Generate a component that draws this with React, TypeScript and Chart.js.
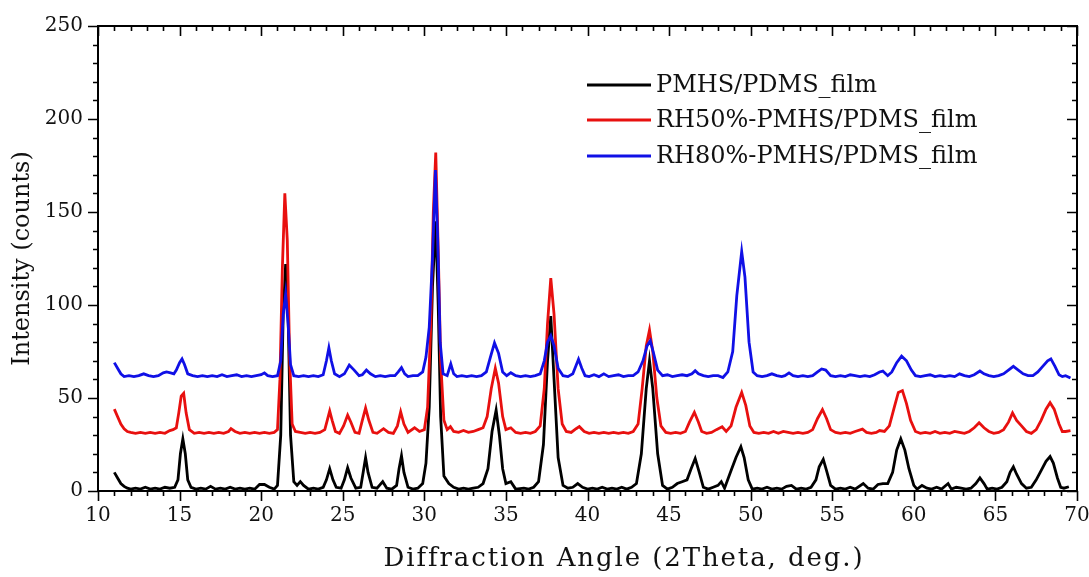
import React, { useEffect, useRef } from "react";
import { Chart, registerables } from "chart.js";

Chart.register(...registerables);

const seriesLabels = ["PMHS/PDMS_film", "RH50%-PMHS/PDMS_film", "RH80%-PMHS/PDMS_film"];
const seriesColors = ["#000000", "#e8100f", "#1010e6"];
const xTitle = "Diffraction Angle (2Theta, deg.)";
const yTitle = "Intensity (counts)";

const xMajorTicks = [10, 15, 20, 25, 30, 35, 40, 45, 50, 55, 60, 65, 70];
const yMajorTicks = [0, 50, 100, 150, 200, 250];

const pmhs: [number, number][] = [
  [11.0,10],[11.2,7],[11.4,4],[11.6,2.5],[11.8,1.5],[12.0,1],[12.3,1.5],[12.6,1],[12.9,2],[13.2,1],[13.5,1.5],[13.8,1],[14.1,2],[14.4,1.5],[14.7,2],[14.9,6],[15.05,20],[15.2,28],[15.35,20],[15.5,6],[15.7,2],[16.0,1],[16.3,1.5],[16.6,1],[16.9,2.5],[17.2,1],[17.5,1.5],[17.8,1],[18.1,2],[18.4,1],[18.7,1.5],[19.0,1],[19.3,1.5],[19.6,1],[19.9,3.5],[20.2,3.5],[20.5,2],[20.8,1],[21.0,3],[21.2,30],[21.35,95],[21.5,122],[21.65,95],[21.8,30],[22.0,5],[22.2,3],[22.4,5],[22.6,3],[22.9,1],[23.2,1.5],[23.5,1],[23.8,2],[24.0,6],[24.2,12],[24.4,6],[24.6,2],[24.9,1.5],[25.1,6],[25.3,12.5],[25.5,7],[25.8,1.5],[26.1,2],[26.25,10],[26.4,18],[26.55,10],[26.8,2],[27.1,1.5],[27.45,5],[27.7,1.5],[28.0,1],[28.3,3],[28.45,12],[28.6,19],[28.75,10],[29.0,2],[29.3,1],[29.6,1.5],[29.9,4],[30.1,15],[30.3,45],[30.5,110],[30.7,145],[30.85,100],[31.0,40],[31.2,8],[31.5,4],[31.8,2],[32.1,1],[32.4,1.5],[32.7,1],[33.0,1.5],[33.3,2],[33.6,4],[33.9,12],[34.15,32],[34.4,43.5],[34.6,30],[34.8,12],[35.0,4],[35.3,5],[35.6,1],[36.1,1.5],[36.4,1],[36.7,2],[37.0,5],[37.3,25],[37.55,70],[37.75,94],[37.95,60],[38.2,18],[38.5,3],[38.8,1.5],[39.1,2],[39.4,4],[39.7,2],[40.0,1],[40.3,1.5],[40.6,1],[40.9,2],[41.2,1],[41.5,1.5],[41.8,1],[42.1,2],[42.4,1],[42.7,2],[43.0,4],[43.3,20],[43.6,55],[43.8,70],[44.0,55],[44.3,20],[44.6,3],[44.9,1],[45.2,2],[45.5,4],[45.8,5],[46.1,6],[46.35,12],[46.6,17.5],[46.85,10],[47.1,2],[47.4,1],[47.7,2],[48.0,3],[48.2,5],[48.4,1.5],[48.8,11],[49.1,18],[49.4,23.8],[49.6,18],[49.85,6],[50.1,1],[50.4,1.5],[50.7,1],[51.0,2],[51.3,1],[51.6,1.5],[51.9,1],[52.2,2.5],[52.5,3],[52.8,1],[53.1,1.5],[53.4,1],[53.7,2],[54.0,6],[54.2,13],[54.45,17],[54.65,11],[54.9,3],[55.2,1],[55.5,1.5],[55.8,1],[56.1,2],[56.4,1],[56.9,4],[57.2,1.5],[57.5,1],[57.8,3.5],[58.1,4],[58.4,4],[58.7,10],[58.95,22],[59.2,28],[59.45,22],[59.7,12],[60.0,3],[60.2,1],[60.5,3],[60.8,1.5],[61.1,1],[61.4,2],[61.7,1],[62.1,4],[62.3,1],[62.6,2],[62.9,1.5],[63.2,1],[63.5,1.5],[63.8,4],[64.05,7],[64.3,4],[64.5,1],[64.8,1.5],[65.1,1],[65.4,2],[65.7,5],[65.9,10],[66.1,13],[66.3,9],[66.6,4],[66.9,1.5],[67.2,2],[67.5,6],[67.8,11],[68.1,16],[68.35,18.5],[68.55,15],[68.8,7],[69.0,2],[69.2,1.5],[69.5,2.3]
];

const rh50: [number, number][] = [
  [11.0,44],[11.2,40],[11.4,36],[11.6,33.5],[11.8,32],[12.0,31.5],[12.3,31],[12.6,31.5],[12.9,31],[13.2,31.5],[13.5,31],[13.8,31.5],[14.1,31],[14.4,32.5],[14.6,33],[14.8,34],[14.95,42],[15.1,51],[15.25,52.5],[15.4,42],[15.6,33],[15.9,31],[16.2,31.5],[16.5,31],[16.8,31.5],[17.1,31],[17.4,31.5],[17.7,31],[18.0,32],[18.15,33.5],[18.4,32],[18.7,31],[19.0,31.5],[19.3,31],[19.6,31.5],[19.9,31],[20.2,31.5],[20.5,31],[20.8,31.5],[21.0,33],[21.15,60],[21.3,120],[21.45,160],[21.6,135],[21.75,70],[21.9,36],[22.1,32],[22.4,31.5],[22.7,31],[23.0,31.5],[23.3,31],[23.6,31.5],[23.9,33],[24.05,38],[24.2,43],[24.35,38],[24.55,32],[24.8,31],[25.05,35],[25.3,40.8],[25.5,37],[25.75,31.5],[26.0,31],[26.2,38],[26.4,44.6],[26.6,38],[26.85,31.5],[27.1,31],[27.5,33.5],[27.8,31.5],[28.1,31],[28.35,35],[28.55,42.6],[28.75,36],[29.0,31.5],[29.4,34],[29.7,32],[30.0,33],[30.2,45],[30.4,90],[30.55,150],[30.7,182],[30.85,130],[31.0,70],[31.2,38],[31.4,33],[31.6,34.6],[31.8,32],[32.1,31.5],[32.4,32.5],[32.7,31.5],[33.0,32],[33.3,33],[33.6,34],[33.85,40],[34.1,55],[34.35,66],[34.55,58],[34.8,40],[35.0,33],[35.3,34],[35.6,31.5],[35.9,31],[36.2,31.5],[36.5,31],[36.8,32],[37.1,35],[37.35,55],[37.55,90],[37.75,114.5],[37.95,95],[38.2,55],[38.45,36],[38.7,32],[39.0,31.5],[39.3,33.5],[39.5,34.6],[39.8,32],[40.1,31],[40.4,31.5],[40.7,31],[41.0,31.5],[41.3,31],[41.6,31.5],[41.9,31],[42.2,31.5],[42.5,31],[42.8,32],[43.1,36],[43.35,55],[43.6,78],[43.8,86.6],[44.0,75],[44.25,50],[44.5,35],[44.8,31.5],[45.1,31],[45.4,31.5],[45.7,31],[46.0,32],[46.25,37],[46.55,42.3],[46.8,37],[47.0,32],[47.3,31],[47.6,31.5],[47.9,33],[48.25,34.5],[48.5,32],[48.8,35],[49.1,45],[49.45,53],[49.7,46],[49.95,35],[50.2,31.5],[50.5,31],[50.8,31.5],[51.1,31],[51.4,32],[51.7,31],[52.0,32],[52.3,31.5],[52.6,31],[52.9,31.5],[53.2,31],[53.5,31.5],[53.8,33],[54.1,39],[54.4,43.8],[54.65,39],[54.9,33],[55.2,31.5],[55.5,31],[55.8,31.5],[56.1,31],[56.4,32],[56.85,33.3],[57.1,31.5],[57.4,31],[57.7,31.5],[57.9,32.5],[58.2,32],[58.5,35],[58.8,45],[59.05,53],[59.3,54],[59.55,47],[59.8,38],[60.1,32],[60.4,31],[60.7,31.5],[61.0,31],[61.3,32],[61.6,31],[61.9,31.5],[62.2,31],[62.5,32],[62.8,31.5],[63.1,31],[63.4,32],[63.7,34],[64.0,36.7],[64.3,34],[64.6,32],[64.9,31],[65.2,31.5],[65.5,33],[65.8,37],[66.05,42],[66.3,38],[66.6,35],[66.9,32],[67.2,31],[67.5,33],[67.8,38],[68.1,44],[68.35,47.5],[68.6,44],[68.9,36],[69.1,32],[69.3,32],[69.6,32.4]
];

const rh80: [number, number][] = [
  [11.0,69],[11.2,66],[11.4,63],[11.6,61.5],[11.9,62],[12.2,61.5],[12.5,62],[12.8,63],[13.1,62],[13.4,61.5],[13.7,62],[14.0,63.5],[14.2,64],[14.45,63.5],[14.65,63],[14.8,65],[15.0,69],[15.15,71],[15.3,68],[15.5,63],[15.8,62],[16.1,61.5],[16.4,62],[16.7,61.5],[17.0,62],[17.3,61.5],[17.6,62.5],[17.9,61.5],[18.2,62],[18.5,62.5],[18.8,61.5],[19.1,62],[19.4,61.5],[19.7,62],[20.0,62.5],[20.2,63.5],[20.4,62],[20.7,61.5],[21.0,62],[21.2,70],[21.35,95],[21.5,106],[21.65,90],[21.8,68],[22.0,62],[22.3,61.5],[22.6,62],[22.9,61.5],[23.2,62],[23.5,61.5],[23.8,62.5],[24.0,70],[24.15,77],[24.3,70],[24.5,63],[24.8,61.5],[25.1,63],[25.4,67.7],[25.7,65],[26.0,62],[26.2,62.5],[26.45,65],[26.7,63],[27.0,61.5],[27.3,62],[27.6,61.5],[27.9,62],[28.2,62],[28.4,64],[28.6,66.3],[28.8,63],[29.0,61.5],[29.3,62],[29.6,62],[29.9,64],[30.1,72],[30.3,88],[30.5,125],[30.68,172.6],[30.82,135],[30.97,80],[31.15,63],[31.4,62],[31.62,68.3],[31.8,63],[32.0,61.5],[32.3,62],[32.6,61.5],[32.9,62],[33.2,61.5],[33.5,62],[33.8,64],[34.05,72],[34.3,79.6],[34.55,74],[34.8,64],[35.05,62],[35.3,63.6],[35.6,62],[35.9,61.5],[36.2,62],[36.5,61.5],[36.8,62],[37.1,63],[37.35,70],[37.55,80],[37.75,83.5],[37.95,78],[38.2,66],[38.5,62],[38.8,61.5],[39.1,63],[39.45,70.8],[39.65,66],[39.85,62],[40.1,61.5],[40.4,62.5],[40.7,61.5],[41.0,63],[41.3,61.5],[41.6,62],[41.9,62.5],[42.2,61.5],[42.5,62],[42.8,62],[43.1,64],[43.4,70],[43.65,78],[43.85,80.8],[44.05,74],[44.3,65],[44.6,62],[44.9,62.5],[45.2,61.5],[45.5,62],[45.8,62.5],[46.1,62],[46.4,63],[46.6,64.7],[46.8,63],[47.1,62],[47.4,61.5],[47.7,62],[48.0,62],[48.3,61],[48.6,64],[48.9,75],[49.15,105],[49.45,128.7],[49.65,115],[49.9,80],[50.15,64],[50.4,62],[50.7,61.5],[51.0,62],[51.3,63],[51.6,62],[51.9,61.5],[52.1,62],[52.35,63.5],[52.6,62],[52.9,61.5],[53.2,62],[53.5,61.5],[53.8,62],[54.1,64],[54.35,65.6],[54.6,65],[54.9,62],[55.2,61.5],[55.5,62],[55.8,61.5],[56.1,62.5],[56.4,62],[56.7,61.5],[57.0,62],[57.3,61.5],[57.6,62.5],[57.9,64],[58.1,64.5],[58.4,62],[58.65,64],[58.95,69],[59.25,72.5],[59.55,70],[59.85,65],[60.1,62],[60.4,61.5],[60.7,62],[61.0,62.5],[61.3,61.5],[61.6,62],[61.9,61.5],[62.2,62],[62.5,61.5],[62.8,63],[63.1,62],[63.4,61.5],[63.7,62.5],[64.05,64.5],[64.3,63],[64.6,62],[64.9,61.5],[65.2,62],[65.5,63],[65.8,65],[66.1,67],[66.4,65],[66.7,63],[67.0,62],[67.3,62],[67.6,64],[67.9,67],[68.2,70],[68.4,71],[68.65,67],[68.9,62.5],[69.1,61.5],[69.3,62],[69.6,60.7]
];

const FONT = "'DejaVu Serif', serif";

const framePlugin = {
  id: "frameTicks",
  afterDraw(chart: any) {
    const { ctx, chartArea } = chart;
    const { left, right, top, bottom } = chartArea;
    const xs = chart.scales.x;
    const ys = chart.scales.y;
    ctx.save();
    ctx.strokeStyle = "#000";
    ctx.lineWidth = 2;
    ctx.strokeRect(left, top, right - left, bottom - top);
    ctx.lineWidth = 1.6;
    ctx.beginPath();
    for (let v = xMajorTicks[0]; v <= xMajorTicks[xMajorTicks.length - 1]; v += 1) {
      const px = Math.round(xs.getPixelForValue(v)) + 0.5;
      const len = xMajorTicks.includes(v) ? 10 : 5;
      ctx.moveTo(px, bottom);
      ctx.lineTo(px, bottom + len);
      ctx.moveTo(px, top);
      ctx.lineTo(px, top + len);
    }
    for (let v = yMajorTicks[0]; v <= yMajorTicks[yMajorTicks.length - 1]; v += 10) {
      const py = Math.round(ys.getPixelForValue(v)) + 0.5;
      const len = yMajorTicks.includes(v) ? 10 : 5;
      ctx.moveTo(left, py);
      ctx.lineTo(left - len, py);
      ctx.moveTo(right, py);
      ctx.lineTo(right - len, py);
    }
    ctx.stroke();

    // x axis title (slightly right of centre, as in the source)
    ctx.fillStyle = "#111";
    ctx.font = `26px ${FONT}`;
    ctx.textAlign = "center";
    ctx.textBaseline = "alphabetic";
    try { (ctx as any).letterSpacing = "1.9px"; } catch (e) {}
    ctx.fillText(xTitle, 624, 566);
    try { (ctx as any).letterSpacing = "0px"; } catch (e) {}

    // legend
    const lx0 = 587;
    const lx1 = 651;
    const rows = [85, 120, 156];
    ctx.font = `24px ${FONT}`;
    ctx.textBaseline = "middle";
    ctx.textAlign = "left";
    chart.data.datasets.forEach((ds: any, i: number) => {
      ctx.strokeStyle = ds.borderColor;
      ctx.lineWidth = 3;
      ctx.beginPath();
      ctx.moveTo(lx0, rows[i]);
      ctx.lineTo(lx1, rows[i]);
      ctx.stroke();
      ctx.fillStyle = "#111";
      ctx.fillText(ds.label, lx1 + 5, rows[i] + 1);
    });
    ctx.restore();
  },
};

export default function App() {
  const ref = useRef<HTMLCanvasElement>(null);
  useEffect(() => {
    if (!ref.current) return;
    const mk = (data: [number, number][], i: number, order: number) => ({
      label: seriesLabels[i],
      data: data.map(([x, y]) => ({ x, y })),
      borderColor: seriesColors[i],
      backgroundColor: seriesColors[i],
      borderWidth: 2.8,
      pointRadius: 0,
      tension: 0,
      fill: false,
      order,
    });
    const chart = new Chart(ref.current, {
      type: "line",
      data: {
        datasets: [mk(pmhs, 0, 3), mk(rh50, 1, 2), mk(rh80, 2, 1)],
      },
      options: {
        animation: false,
        responsive: false,
        devicePixelRatio: 1,
        layout: { padding: { left: 0, top: 26, right: 12, bottom: 0 } },
        plugins: { legend: { display: false }, tooltip: { enabled: false } },
        scales: {
          x: {
            type: "linear",
            min: 10,
            max: 70,
            grid: { display: false, drawTicks: false },
            border: { display: false },
            ticks: {
              stepSize: 5,
              padding: 13,
              color: "#111",
              font: { family: FONT, size: 20 },
              maxRotation: 0,
            },
            title: { display: false },
            afterFit: (s: any) => {
              s.height = 86;
              s.paddingLeft = 0;
              s.paddingRight = 0;
            },
          },
          y: {
            type: "linear",
            min: 0,
            max: 250,
            grid: { display: false, drawTicks: false },
            border: { display: false },
            ticks: {
              stepSize: 50,
              padding: 15,
              color: "#111",
              font: { family: FONT, size: 20 },
            },
            title: {
              display: true,
              text: yTitle,
              color: "#111",
              font: { family: FONT, size: 24 },
              padding: { top: 8, bottom: 0 },
            },
            afterFit: (s: any) => {
              s.width = 98;
              s.paddingTop = 0;
              s.paddingBottom = 0;
            },
          },
        },
      },
      plugins: [framePlugin],
    });
    return () => chart.destroy();
  }, []);
  return (
    <div style={{ position: "fixed", left: 0, top: 0, width: 1089, height: 577, background: "#fff" }}>
      <canvas ref={ref} width={1089} height={577} style={{ width: 1089, height: 577 }} />
    </div>
  );
}
